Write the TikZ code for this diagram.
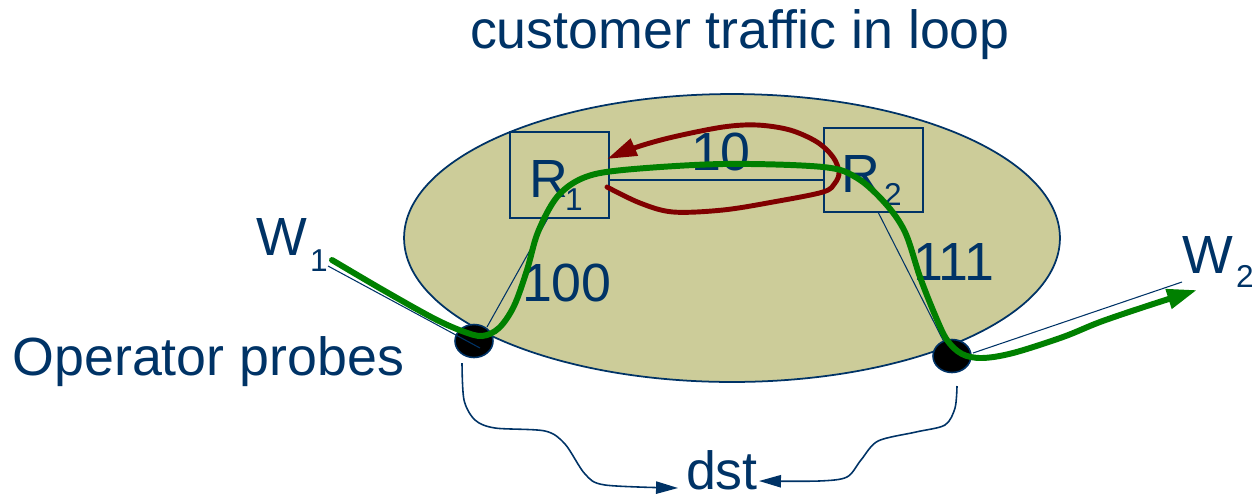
\documentclass[tikz,border=0pt]{standalone}
\usepackage{fontspec}
\setmainfont{Liberation Sans}
\usetikzlibrary{arrows.meta,shapes.geometric}
\definecolor{navy}{RGB}{0,51,102}
\definecolor{cloudfill}{RGB}{204,204,153}
\definecolor{tgreen}{RGB}{0,128,0}
\definecolor{tred}{RGB}{128,0,0}
\begin{document}
\begin{tikzpicture}[x=0.02cm,y=-0.02cm,
  txt/.style={inner sep=0,outer sep=0,anchor=base west,text=navy,font=\fontsize{30.6}{36}\selectfont},
  subtxt/.style={inner sep=0,outer sep=0,anchor=base west,text=navy,font=\fontsize{18}{20}\selectfont},
  router/.style={draw=navy,line width=0.8pt,minimum width=1.98cm,inner sep=0},
  probe/.style={ellipse,draw=navy,fill=black,line width=0.9pt,minimum width=0.76cm,minimum height=0.66cm,inner sep=0},
  link/.style={draw=navy,line width=0.6pt},
  greenpath/.style={draw=tgreen,line width=3.4pt,line cap=round},
  redpath/.style={draw=tred,line width=2.8pt,line cap=round},
  dstarrow/.style={draw=navy,line width=0.9pt,-{Triangle[length=12.5pt,width=7pt]}}
]
\useasboundingbox (0,0) rectangle (1255,495);

% cloud
\node[ellipse,draw=navy,fill=cloudfill,line width=1pt,minimum width=13.12cm,minimum height=5.76cm,inner sep=0] (cloud) at (732,238) {};

% routers
\node[router,minimum height=1.72cm] (R1) at (559.5,175) {};
\node[router,minimum height=1.68cm] (R2) at (873.5,170) {};

% probes
\node[probe] (p1) at (474,341) {};
\node[probe] (p2) at (952,356) {};

% link end coordinates
\coordinate (w1c) at (328,266);
\coordinate (p1a) at (480,348);
\coordinate (p1b) at (487,327);
\coordinate (r1b) at (548,218);
\coordinate (r2b) at (878,212);
\coordinate (p2a) at (944,342);
\coordinate (p2b) at (973,353);
\coordinate (w2c) at (1182,282);

% links
\draw[link] (w1c) -- (p1a);
\draw[link] (p1b) -- (r1b);
\draw[link] (R1.east |- 0,180) -- (R2.west |- 0,180);
\draw[link] (r2b) -- (p2a);
\draw[link] (p2b) -- (w2c);

% texts
\node[txt] (title) at (470,48) {customer traffic in loop};
\node[txt] (ops) at (12.5,375) {Operator probes};
\node[txt] (l10) at (691,170) {10};
\node[txt] (l100) at (522,301) {100};
\node[txt] (l111) at (913,280) {111};
\node[txt] (r1t) at (529,197) {R};
\node[subtxt] (r1s) at (565,210) {1};
\node[txt] (r2t) at (841,192) {R};
\node[subtxt] (r2s) at (884,205) {2};
\node[txt] (w1t) at (256,255) {W};
\node[subtxt] (w1s) at (310,271) {1};
\node[txt] (w2t) at (1182,273) {W};
\node[subtxt] (w2s) at (1236,287) {2};
\node[txt] (dst) at (686,489) {dst};

% red loop
\draw[redpath,-{Triangle[length=17pt,width=10pt]}] plot[smooth,tension=0.55] coordinates {
 (607,187) (640,203) (673,212) (723,210) (773,202) (823,192) (835,183) (839,172)
 (833,157) (817,142) (790,130) (757,125) (723,127) (673,137) (637,147) (607,159)};

% green path
\draw[greenpath,-{Triangle[length=17pt,width=11pt]}] plot[smooth,tension=0.55] coordinates {
 (332,260) (383,290) (433,318) (462,331) (482,336) (499,328) (514,306) (527,270)
 (538,232) (557,197) (583,178) (623,170) (723,164) (823,167) (857,178) (885,203)
 (905,232) (920,277) (935,315) (947,340) (962,354) (982,358) (1013,353) (1063,337)
 (1100,322) (1147,306) (1197,290)};

% dst arrows
\coordinate (d1) at (462,363);
\coordinate (d2) at (957,386);
\draw[dstarrow] plot[smooth,tension=0.5] coordinates {
 (d1) (464,400) (475,420) (495,428) (545,431) (565,444) (585,474) (605,485) (678,488)};
\draw[dstarrow] plot[smooth,tension=0.5] coordinates {
 (d2) (955,408) (945,425) (916,432) (878,441) (861,460) (847,477) (819,481) (759,481)};
\end{tikzpicture}
\end{document}
